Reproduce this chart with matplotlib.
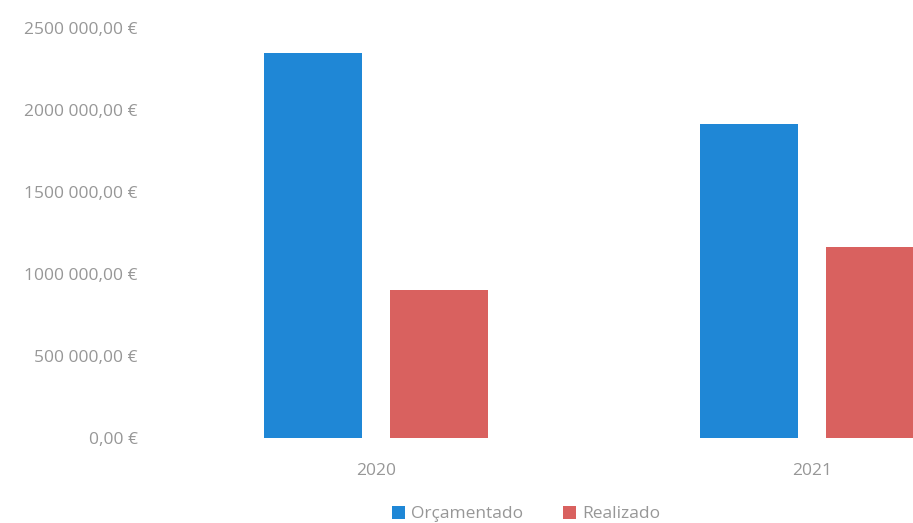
import matplotlib
matplotlib.use("Agg")
import matplotlib.pyplot as plt
import numpy as np

years = ["2020", "2021"]
orcamentado = [2350000, 1915000]
realizado = [900000, 1165000]
ytick_values = [0, 500000, 1000000, 1500000, 2000000, 2500000]
ytick_labels = ["0,00 €", "500 000,00 €", "1000 000,00 €", "1500 000,00 €",
                "2000 000,00 €", "2500 000,00 €"]

BLUE = "#1f87d6"
RED = "#d9615f"
TEXT = "#979797"
FS = 12.5

plt.rcParams["font.family"] = ["Open Sans", "DejaVu Sans"]

fig = plt.figure(figsize=(9.13, 5.23), dpi=100)
ax = fig.add_axes([160 / 913, 85 / 523, 1 - 160 / 913, 410 / 523])

x = np.arange(len(years))
width = 0.225
offset = 0.144
ax.bar(x - offset, orcamentado, width, color=BLUE, label="Orçamentado")
ax.bar(x + offset, realizado, width, color=RED, label="Realizado")

ax.set_xlim(-0.495, 1.232)
ax.set_ylim(0, 2500000)
ax.set_yticks(ytick_values)
ax.set_yticklabels(ytick_labels)
ax.set_xticks(x)
ax.set_xticklabels(years)

for s in ax.spines.values():
    s.set_visible(False)
ax.tick_params(axis="both", length=0, colors=TEXT, labelsize=FS)
ax.tick_params(axis="y", pad=16)
ax.tick_params(axis="x", pad=18)

ax.legend(loc="center left", bbox_to_anchor=(392 / 913, 9 / 523),
          bbox_transform=fig.transFigure, ncol=2, frameon=False,
          borderpad=0, borderaxespad=0,
          fontsize=FS, labelcolor=TEXT, handlelength=0.75, handleheight=0.75,
          handletextpad=0.35, columnspacing=2.3)

fig.savefig("out.png", dpi=100)
